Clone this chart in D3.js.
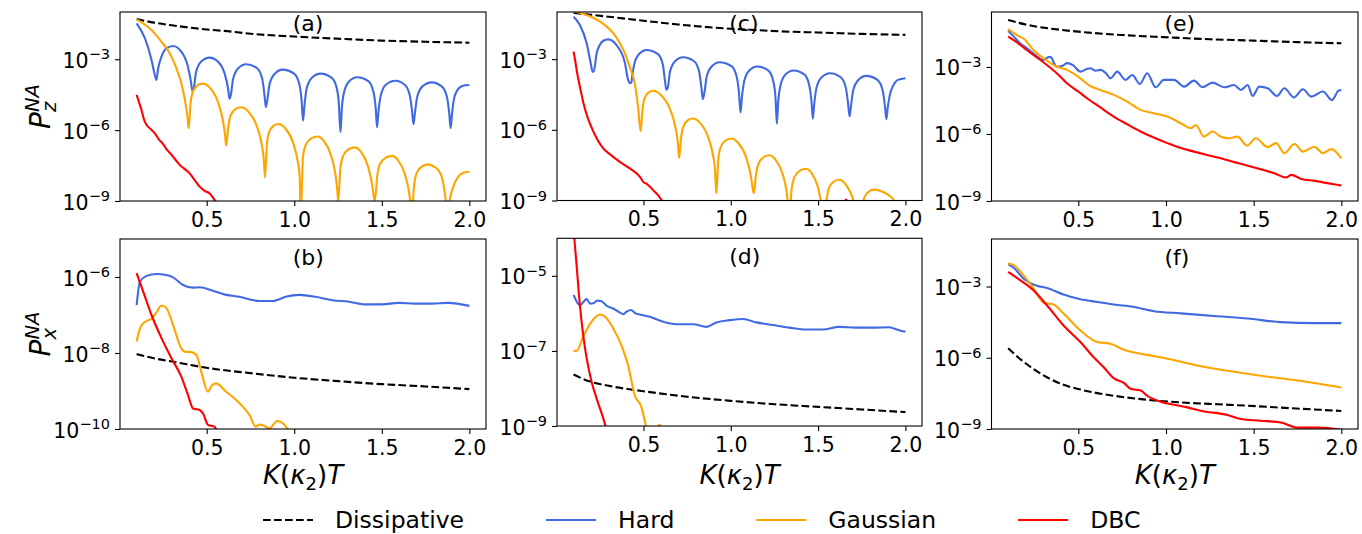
<!DOCTYPE html>
<html>
<head>
<meta charset="utf-8">
<script src="https://cdn.jsdelivr.net/npm/d3@7"></script>
<style>
  html, body { margin: 0; padding: 0; background: #ffffff; }
  svg { display: block; font-family: "DejaVu Sans", sans-serif; }
</style>
</head>
<body>
<svg id="fig" width="1362" height="534"></svg>
<script>
// Non-adiabatic transition probabilities versus K(kappa_2) T.
// Every series is a list of [K(kappa_2)T, log10 P] pairs.

// ---- (a) P_z, first configuration ----
const dissA = [[0.10,-1.30],[0.20,-1.45],[0.30,-1.56],[0.40,-1.66],[0.50,-1.74],[0.60,-1.80],[0.75,-1.92],[1.00,-2.04],[1.25,-2.13],[1.50,-2.21],[1.75,-2.26],[2.00,-2.30]];
const hardA = [
  [0.100,-1.48],[0.147,-2.11],[0.185,-3.03],[0.204,-3.67],[0.213,-3.88],
  [0.223,-3.38],[0.242,-2.89],[0.270,-2.54],[0.308,-2.44],[0.355,-2.68],[0.393,-3.32],[0.410,-3.95],[0.418,-4.33],
  [0.427,-4.20],[0.439,-3.55],[0.469,-3.10],[0.516,-2.93],[0.564,-3.10],[0.600,-3.55],[0.622,-4.23],[0.630,-4.67],
  [0.638,-4.51],[0.651,-3.83],[0.680,-3.38],[0.725,-3.21],[0.788,-3.38],[0.817,-3.83],[0.830,-4.51],[0.838,-5.03],
  [0.846,-4.74],[0.859,-4.06],[0.889,-3.61],[0.933,-3.44],[0.999,-3.61],[1.029,-4.06],[1.042,-4.74],[1.050,-5.60],
  [1.059,-4.91],[1.071,-4.23],[1.101,-3.78],[1.151,-3.61],[1.213,-3.78],[1.243,-4.23],[1.255,-4.91],[1.264,-6.09],
  [1.272,-5.06],[1.285,-4.38],[1.314,-3.93],[1.359,-3.76],[1.423,-3.93],[1.452,-4.38],[1.465,-5.06],[1.473,-5.88],
  [1.481,-5.21],[1.494,-4.53],[1.523,-4.08],[1.577,-3.91],[1.631,-4.08],[1.660,-4.53],[1.673,-5.21],[1.681,-5.75],
  [1.689,-5.28],[1.702,-4.60],[1.732,-4.15],[1.785,-3.98],[1.842,-4.15],[1.872,-4.60],[1.885,-5.28],[1.893,-5.92],
  [1.901,-5.30],[1.914,-4.62],[1.944,-4.20],[1.975,-4.10],[2.000,-4.09]];
const gaussA = [
  [0.100,-1.31],[0.185,-1.76],[0.242,-2.26],[0.289,-2.75],[0.327,-3.38],[0.355,-4.02],[0.374,-4.65],[0.390,-5.43],[0.397,-5.92],
  [0.408,-4.87],[0.421,-4.37],[0.450,-4.09],[0.477,-4.03],[0.516,-4.19],[0.564,-4.80],[0.592,-5.57],[0.605,-6.20],[0.611,-6.66],
  [0.623,-5.88],[0.637,-5.38],[0.666,-5.10],[0.696,-5.03],[0.736,-5.20],[0.785,-5.81],[0.814,-6.58],[0.826,-7.23],[0.833,-8.00],
  [0.844,-6.59],[0.856,-6.09],[0.883,-5.81],[0.910,-5.74],[0.947,-5.91],[0.993,-6.52],[1.019,-7.29],[1.031,-7.94],[1.037,-9.60],
  [1.050,-7.12],[1.066,-6.62],[1.099,-6.34],[1.132,-6.27],[1.167,-6.44],[1.209,-7.05],[1.234,-7.82],[1.245,-8.47],[1.251,-9.00],
  [1.264,-7.58],[1.280,-7.08],[1.313,-6.80],[1.346,-6.73],[1.379,-6.90],[1.420,-7.51],[1.444,-8.28],[1.454,-8.80],[1.460,-9.00],
  [1.474,-7.94],[1.489,-7.44],[1.524,-7.16],[1.558,-7.09],[1.591,-7.26],[1.632,-7.87],[1.656,-8.64],[1.666,-9.20],[1.672,-9.40],
  [1.685,-8.30],[1.700,-7.80],[1.733,-7.52],[1.766,-7.45],[1.798,-7.55],[1.823,-7.69],[1.850,-8.20],[1.866,-9.00],[1.878,-9.50],
  [1.890,-8.90],[1.908,-8.39],[1.937,-7.97],[1.965,-7.80],[2.000,-7.76]];
const dbcA = [[0.100,-4.51],[0.115,-4.85],[0.128,-5.15],[0.142,-5.55],[0.157,-5.78],[0.180,-5.95],[0.204,-6.14],[0.230,-6.42],[0.250,-6.58],[0.270,-6.80],[0.300,-7.05],[0.330,-7.33],[0.346,-7.47],[0.370,-7.62],[0.403,-7.83],[0.430,-8.10],[0.460,-8.39],[0.490,-8.58],[0.516,-8.67],[0.535,-8.85],[0.550,-9.00],[0.600,-9.40]];

// ---- (b) P_x, first configuration ----
const dissB = [[0.10,-8.03],[0.20,-8.14],[0.31,-8.23],[0.50,-8.39],[0.75,-8.53],[1.00,-8.65],[1.25,-8.74],[1.50,-8.82],[1.75,-8.88],[2.00,-8.95]];
const hardB = [[0.100,-6.74],[0.119,-6.12],[0.157,-5.97],[0.213,-5.92],[0.270,-5.95],[0.308,-6.01],[0.365,-6.21],[0.422,-6.28],[0.460,-6.27],[0.535,-6.36],[0.611,-6.47],[0.687,-6.52],[0.800,-6.63],[0.876,-6.63],[0.952,-6.52],[1.028,-6.47],[1.122,-6.52],[1.217,-6.61],[1.312,-6.65],[1.406,-6.72],[1.501,-6.72],[1.596,-6.68],[1.690,-6.70],[1.785,-6.70],[1.880,-6.68],[2.000,-6.76]];
const gaussB = [[0.100,-7.70],[0.119,-7.35],[0.138,-7.22],[0.160,-7.15],[0.185,-7.10],[0.213,-6.93],[0.242,-6.75],[0.270,-6.82],[0.308,-7.26],[0.355,-7.88],[0.380,-7.97],[0.403,-7.97],[0.441,-8.05],[0.469,-8.49],[0.507,-9.02],[0.530,-8.85],[0.554,-8.80],[0.611,-9.02],[0.658,-9.19],[0.706,-9.41],[0.744,-9.63],[0.781,-9.94],[0.800,-9.88],[0.820,-9.90],[0.857,-9.98],[0.904,-9.79],[0.942,-9.88],[0.970,-10.05],[1.000,-10.20]];
const dbcB = [[0.100,-5.90],[0.138,-6.39],[0.185,-7.00],[0.242,-7.61],[0.299,-8.14],[0.355,-8.62],[0.393,-9.10],[0.422,-9.46],[0.460,-9.50],[0.480,-9.60],[0.507,-9.89],[0.545,-9.94],[0.560,-10.10]];

// ---- (c) P_z, second configuration ----
const dissC = [[0.10,-1.04],[0.20,-1.12],[0.30,-1.20],[0.50,-1.37],[0.70,-1.53],[0.85,-1.63],[1.00,-1.71],[1.15,-1.77],[1.35,-1.84],[1.50,-1.87],[1.75,-1.93],[2.00,-1.97]];
const hardC = [
  [0.100,-1.20],[0.136,-1.55],[0.175,-2.33],[0.198,-3.17],[0.209,-3.53],[0.215,-3.53],
  [0.232,-2.75],[0.250,-2.40],[0.270,-2.22],[0.298,-2.16],[0.346,-2.41],[0.393,-3.13],[0.413,-3.90],[0.422,-4.02],[0.430,-4.00],
  [0.436,-3.70],[0.447,-3.23],[0.475,-2.78],[0.517,-2.61],[0.582,-2.78],[0.611,-3.23],[0.623,-3.91],[0.631,-4.30],
  [0.639,-4.22],[0.652,-3.54],[0.681,-3.09],[0.726,-2.92],[0.790,-3.09],[0.819,-3.54],[0.832,-4.22],[0.840,-4.70],
  [0.849,-4.43],[0.862,-3.75],[0.892,-3.30],[0.936,-3.13],[1.004,-3.30],[1.034,-3.75],[1.047,-4.43],[1.056,-5.26],
  [1.064,-4.61],[1.077,-3.93],[1.106,-3.48],[1.151,-3.31],[1.214,-3.48],[1.243,-3.93],[1.256,-4.61],[1.264,-5.74],
  [1.272,-4.78],[1.285,-4.10],[1.313,-3.65],[1.360,-3.48],[1.421,-3.65],[1.449,-4.10],[1.462,-4.78],[1.470,-5.53],
  [1.478,-4.90],[1.491,-4.22],[1.520,-3.77],[1.570,-3.60],[1.630,-3.77],[1.659,-4.22],[1.672,-4.90],[1.680,-5.43],
  [1.688,-5.01],[1.701,-4.33],[1.731,-3.88],[1.775,-3.71],[1.840,-3.88],[1.870,-4.33],[1.883,-5.01],[1.891,-5.55],
  [1.899,-5.05],[1.909,-4.59],[1.938,-4.02],[1.957,-3.88],[2.000,-3.81]];
const gaussC = [
  [0.100,-0.97],[0.193,-1.18],[0.250,-1.40],[0.288,-1.61],[0.326,-1.89],[0.364,-2.32],[0.393,-2.74],[0.421,-3.32],[0.450,-4.02],[0.469,-5.02],[0.484,-6.06],
  [0.494,-5.19],[0.505,-4.69],[0.530,-4.41],[0.555,-4.34],[0.598,-4.51],[0.652,-5.12],[0.683,-5.89],[0.697,-6.54],[0.704,-7.20],
  [0.715,-6.37],[0.728,-5.87],[0.755,-5.59],[0.783,-5.52],[0.822,-5.69],[0.870,-6.30],[0.898,-7.07],[0.910,-7.72],[0.917,-8.69],
  [0.929,-7.22],[0.943,-6.72],[0.973,-6.44],[1.003,-6.37],[1.040,-6.54],[1.087,-7.15],[1.114,-7.92],[1.126,-8.50],[1.132,-8.69],
  [1.144,-7.93],[1.159,-7.43],[1.190,-7.15],[1.221,-7.08],[1.254,-7.25],[1.296,-7.86],[1.320,-8.63],[1.330,-9.28],[1.336,-9.50],
  [1.349,-8.50],[1.365,-8.00],[1.398,-7.72],[1.431,-7.65],[1.461,-7.82],[1.499,-8.43],[1.521,-9.20],[1.536,-9.60],
  [1.548,-8.97],[1.562,-8.47],[1.591,-8.19],[1.621,-8.12],[1.655,-8.29],[1.698,-8.90],[1.722,-9.50],[1.739,-9.70],
  [1.750,-9.39],[1.764,-8.89],[1.792,-8.61],[1.821,-8.54],[1.858,-8.60],[1.900,-8.75],[1.935,-9.00],[1.950,-9.80],[1.970,-9.50],[2.000,-9.20]];
const dbcC = [[0.100,-2.68],[0.110,-3.10],[0.119,-3.53],[0.138,-4.24],[0.157,-4.88],[0.176,-5.38],[0.205,-5.94],[0.233,-6.37],[0.271,-6.80],[0.309,-7.04],[0.367,-7.37],[0.424,-7.65],[0.481,-8.01],[0.500,-8.22],[0.519,-8.29],[0.557,-8.57],[0.586,-8.79],[0.605,-9.00],[0.650,-9.40],[1.000,-9.80],[1.400,-9.60],[1.645,-9.20],[1.660,-8.96],[1.675,-9.20],[2.000,-9.60]];

// ---- (d) P_x, second configuration ----
const dissD = [[0.10,-7.63],[0.19,-7.81],[0.30,-7.93],[0.48,-8.06],[0.75,-8.22],[1.00,-8.33],[1.25,-8.42],[1.50,-8.49],[1.75,-8.56],[2.00,-8.63]];
const hardD = [[0.100,-5.51],[0.136,-5.78],[0.175,-5.62],[0.195,-5.74],[0.213,-5.73],[0.235,-5.66],[0.257,-5.67],[0.290,-5.80],[0.327,-5.87],[0.355,-5.95],[0.384,-6.02],[0.405,-5.95],[0.428,-5.91],[0.455,-6.00],[0.480,-6.03],[0.537,-6.09],[0.613,-6.22],[0.708,-6.29],[0.785,-6.29],[0.861,-6.36],[0.918,-6.24],[0.994,-6.18],[1.070,-6.15],[1.146,-6.24],[1.241,-6.31],[1.336,-6.38],[1.431,-6.43],[1.526,-6.43],[1.621,-6.36],[1.717,-6.38],[1.812,-6.38],[1.907,-6.37],[1.964,-6.45],[2.000,-6.49]];
const gaussD = [[0.100,-7.00],[0.117,-7.00],[0.155,-6.62],[0.203,-6.22],[0.251,-6.03],[0.289,-6.13],[0.327,-6.40],[0.374,-6.85],[0.412,-7.38],[0.450,-8.18],[0.488,-8.49],[0.517,-9.05],[0.536,-9.40],[0.574,-9.10],[0.593,-8.96],[0.612,-9.20],[0.650,-9.60]];
const dbcD = [[0.100,-3.76],[0.117,-4.71],[0.136,-5.78],[0.155,-6.58],[0.175,-7.20],[0.203,-7.82],[0.232,-8.27],[0.270,-8.80],[0.283,-9.00],[0.300,-9.30]];

// ---- (e) P_z, third configuration ----
const dissE = [[0.10,-0.90],[0.20,-1.10],[0.30,-1.24],[0.40,-1.34],[0.50,-1.42],[0.75,-1.57],[1.00,-1.67],[1.25,-1.76],[1.50,-1.82],[1.75,-1.89],[2.00,-1.94]];
const hardE = [[0.100,-1.38],[0.130,-1.62],[0.168,-1.94],[0.205,-2.15],[0.244,-2.40],[0.280,-2.62],[0.302,-2.69],[0.330,-2.56],[0.345,-2.56],[0.360,-2.80],[0.378,-2.99],[0.410,-2.95],[0.435,-2.83],[0.470,-2.92],[0.512,-3.21],[0.545,-3.10],[0.569,-3.06],[0.600,-3.17],[0.626,-3.13],[0.660,-3.30],[0.683,-3.51],[0.722,-3.21],[0.769,-3.58],[0.808,-3.36],[0.851,-3.76],[0.893,-3.28],[0.941,-3.91],[0.988,-3.58],[1.046,-3.58],[1.103,-3.88],[1.160,-3.61],[1.208,-3.91],[1.265,-3.70],[1.332,-3.91],[1.389,-3.81],[1.427,-4.03],[1.466,-3.81],[1.494,-4.30],[1.532,-3.88],[1.580,-3.95],[1.633,-4.30],[1.675,-3.95],[1.729,-4.36],[1.781,-4.00],[1.828,-4.33],[1.895,-4.10],[1.947,-4.48],[1.984,-4.06],[2.000,-4.03]];
const gaussE = [[0.100,-1.31],[0.149,-1.57],[0.197,-1.79],[0.244,-2.24],[0.302,-2.61],[0.378,-2.99],[0.435,-3.13],[0.512,-3.51],[0.559,-3.81],[0.626,-4.03],[0.702,-4.25],[0.779,-4.55],[0.855,-4.92],[0.931,-5.07],[1.008,-5.22],[1.084,-5.52],[1.141,-5.74],[1.170,-5.60],[1.217,-6.12],[1.265,-5.89],[1.313,-6.12],[1.360,-6.19],[1.408,-6.12],[1.462,-6.52],[1.513,-6.19],[1.580,-6.59],[1.628,-6.41],[1.675,-6.86],[1.733,-6.45],[1.781,-6.79],[1.847,-6.57],[1.895,-6.86],[1.943,-6.68],[2.000,-7.09]];
const dbcE = [[0.100,-1.64],[0.150,-1.90],[0.206,-2.24],[0.260,-2.55],[0.321,-2.91],[0.380,-3.30],[0.435,-3.73],[0.500,-4.10],[0.550,-4.40],[0.620,-4.78],[0.702,-5.22],[0.780,-5.57],[0.855,-5.89],[0.930,-6.16],[1.008,-6.41],[1.080,-6.62],[1.160,-6.79],[1.240,-6.95],[1.313,-7.09],[1.390,-7.26],[1.466,-7.42],[1.540,-7.58],[1.618,-7.76],[1.685,-7.95],[1.714,-7.83],[1.771,-8.01],[1.847,-8.10],[1.920,-8.20],[2.000,-8.31]];

// ---- (f) P_x, third configuration ----
const dissF = [[0.100,-5.60],[0.168,-6.05],[0.244,-6.47],[0.321,-6.82],[0.416,-7.14],[0.512,-7.34],[0.702,-7.60],[0.893,-7.77],[1.084,-7.88],[1.300,-7.96],[1.466,-8.02],[1.700,-8.12],[2.000,-8.24]];
const hardF = [[0.100,-2.07],[0.132,-2.21],[0.187,-2.66],[0.264,-2.97],[0.321,-3.06],[0.416,-3.34],[0.512,-3.54],[0.607,-3.65],[0.702,-3.76],[0.817,-3.86],[0.931,-4.04],[1.084,-4.13],[1.275,-4.24],[1.466,-4.35],[1.656,-4.50],[1.847,-4.54],[2.000,-4.54]];
const gaussF = [[0.100,-2.03],[0.132,-2.10],[0.187,-2.52],[0.244,-3.08],[0.302,-3.68],[0.359,-3.76],[0.416,-4.14],[0.512,-4.85],[0.607,-5.34],[0.683,-5.41],[0.760,-5.66],[0.893,-5.88],[1.008,-6.04],[1.179,-6.33],[1.370,-6.57],[1.561,-6.78],[1.752,-6.96],[2.000,-7.25]];
const dbcF = [[0.100,-2.38],[0.168,-2.73],[0.244,-3.16],[0.321,-3.79],[0.416,-4.64],[0.512,-5.34],[0.588,-5.98],[0.645,-6.40],[0.702,-6.86],[0.760,-7.06],[0.798,-7.31],[0.855,-7.38],[0.893,-7.60],[0.969,-7.85],[1.046,-7.98],[1.122,-8.09],[1.198,-8.23],[1.351,-8.41],[1.427,-8.58],[1.542,-8.65],[1.656,-8.73],[1.752,-8.94],[1.866,-8.94],[2.000,-9.03]];

// Tick values (log10 exponents for the y axes)
const xTickValues = [0.5, 1.0, 1.5, 2.0];
const seriesNames = ["Dissipative", "Hard", "Gaussian", "DBC"];
const seriesColors = ["#000000", "#4169e1", "#ffa500", "#ff0000"];

// ---- layout ----
const svg = d3.select("#fig");
const FONT = '"DejaVu Sans", sans-serif';
const LW = 2.1;
const DASH = "7.7,3.3";

const panels = [
  { name: "(a)", series: [dissA, hardA, gaussA, dbcA], left: 120,   top: 12,    width: 366,   height: 189,   yExp: [-9, -1],    yTicks: [-3, -6, -9],  titleOff: 19 },
  { name: "(c)", series: [dissC, hardC, gaussC, dbcC], left: 557,   top: 12,    width: 365,   height: 188.5, yExp: [-9, -1],    yTicks: [-3, -6, -9],  titleOff: 19 },
  { name: "(e)", series: [dissE, hardE, gaussE, dbcE], left: 991.5, top: 12,    width: 366.5, height: 189,   yExp: [-9, -0.54], yTicks: [-3, -6, -9],  titleOff: 19 },
  { name: "(b)", series: [dissB, hardB, gaussB, dbcB], left: 120,   top: 239,   width: 366,   height: 190,   yExp: [-10, -5],   yTicks: [-6, -8, -10], titleOff: 25.5 },
  { name: "(d)", series: [dissD, hardD, gaussD, dbcD], left: 557,   top: 238.3, width: 365,   height: 187.7, yExp: [-9, -4],    yTicks: [-5, -7, -9],  titleOff: 25.5 },
  { name: "(f)", series: [dissF, hardF, gaussF, dbcF], left: 991.5, top: 239,   width: 366.5, height: 190,   yExp: [-9, -1],    yTicks: [-3, -6, -9],  titleOff: 25.5 }
];

const defs = svg.append("defs");

panels.forEach((p, i) => {
  const x = d3.scaleLinear().domain([0.005, 2.095]).range([p.left, p.left + p.width]);
  const y = d3.scaleLog().domain([Math.pow(10, p.yExp[0]), Math.pow(10, p.yExp[1])])
    .range([p.top + p.height, p.top]);

  const clipId = "clip" + i;
  defs.append("clipPath").attr("id", clipId)
    .append("rect").attr("x", p.left).attr("y", p.top).attr("width", p.width).attr("height", p.height);

  const line = d3.line()
    .x(d => x(d[0]))
    .y(d => y(Math.pow(10, d[1])))
    .curve(d3.curveMonotoneX);

  const g = svg.append("g").attr("clip-path", `url(#${clipId})`);
  p.series.forEach((s, k) => {
    g.append("path")
      .attr("d", line(s))
      .attr("fill", "none")
      .attr("stroke", seriesColors[k])
      .attr("stroke-width", LW)
      .attr("stroke-linejoin", "round")
      .attr("stroke-dasharray", k === 0 ? DASH : null);
  });

  // x axis
  const xa = svg.append("g").attr("transform", `translate(0,${p.top + p.height})`)
    .call(d3.axisBottom(x).tickValues(xTickValues).tickFormat(d3.format(".1f"))
      .tickSize(5).tickSizeOuter(0).tickPadding(6));
  xa.select(".domain").remove();
  xa.selectAll("line").attr("stroke", "#000").attr("stroke-width", 1.1);
  xa.selectAll("text").attr("font-size", 20.5).attr("font-family", FONT).attr("fill", "#000");

  // y axis with 10^n labels
  const ya = svg.append("g").attr("transform", `translate(${p.left},0)`)
    .call(d3.axisLeft(y).tickValues(p.yTicks.map(e => Math.pow(10, e))).tickFormat(() => "")
      .tickSize(5).tickSizeOuter(0).tickPadding(5));
  ya.select(".domain").remove();
  ya.selectAll("line").attr("stroke", "#000").attr("stroke-width", 1.1);
  ya.selectAll(".tick text").each(function (d) {
    const t = d3.select(this)
      .attr("font-size", 20.5).attr("font-family", FONT).attr("fill", "#000")
      .attr("dy", "0.39em").text(null);
    t.append("tspan").text("10");
    t.append("tspan").attr("font-size", 14.5).attr("dy", -8.3)
      .text("\u2212" + Math.abs(Math.round(Math.log10(d))));
  });

  // frame
  svg.append("rect")
    .attr("x", p.left).attr("y", p.top).attr("width", p.width).attr("height", p.height)
    .attr("fill", "none").attr("stroke", "#000").attr("stroke-width", 1.1);

  // panel tag
  svg.append("text")
    .attr("x", x(1.0) - 1.5).attr("y", p.top + p.titleOff)
    .attr("font-size", 22).attr("font-family", FONT).attr("fill", "#000")
    .text(p.name);

  // x label under the bottom row
  if (p.top > 200) {
    const cx = p.left + p.width / 2;
    const t = svg.append("text").attr("x", cx).attr("y", 484)
      .attr("text-anchor", "middle").attr("font-size", 26).attr("font-family", FONT).attr("fill", "#000");
    t.append("tspan").attr("font-style", "italic").text("K");
    t.append("tspan").text("(");
    t.append("tspan").attr("font-style", "italic").text("\u03ba");
    t.append("tspan").attr("font-size", 18).attr("dy", 6).text("2");
    t.append("tspan").attr("dy", -6).text(")");
    t.append("tspan").attr("font-style", "italic").text("T");
  }
});

// y labels P_z^NA and P_x^NA
function yLabel(sub, cx, cy) {
  const g = svg.append("g").attr("transform", `translate(${cx},${cy}) rotate(-90)`);
  const t = g.append("text").attr("font-size", 28).attr("font-family", FONT)
    .attr("font-style", "italic").attr("fill", "#000");
  t.append("tspan").text("P");
  const s = t.append("tspan").attr("font-size", 19.6).attr("dy", 6).text(sub);
  const w = s.node().getComputedTextLength();
  t.append("tspan").attr("font-size", 19.6).attr("dx", -w).attr("dy", -17).text("NA");
  const bb = t.node().getBBox();
  t.attr("x", -(bb.x + bb.width / 2));
}
yLabel("z", 50, 106.5);
yLabel("x", 50, 334);

// legend
let lx = 263;
const ly = 520;
seriesNames.forEach((name, k) => {
  svg.append("line")
    .attr("x1", lx).attr("x2", lx + 50).attr("y1", ly).attr("y2", ly)
    .attr("stroke", seriesColors[k]).attr("stroke-width", LW)
    .attr("stroke-dasharray", k === 0 ? DASH : null);
  const t = svg.append("text")
    .attr("x", lx + 72).attr("y", ly + 8.2)
    .attr("font-size", 23.5).attr("font-family", FONT).attr("fill", "#000")
    .text(name);
  lx = lx + 72 + t.node().getComputedTextLength() + 82;
});
</script>
</body>
</html>
